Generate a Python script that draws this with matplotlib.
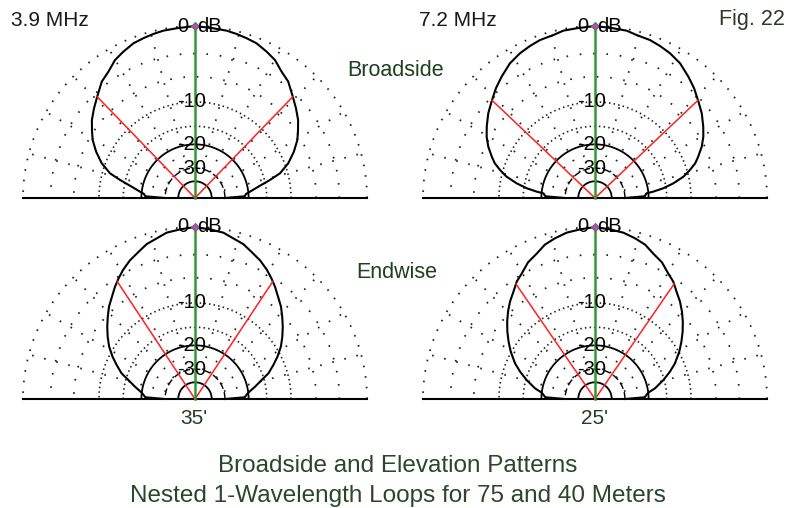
import numpy as np
import matplotlib.pyplot as plt

plt.rcParams['font.family'] = ['Liberation Sans', 'DejaVu Sans']

W, H = 790, 508
R_PX = 172  # radius of the 0 dB ring in pixels

# elevation patterns, left half: elevation angle (deg above horizon) and gain (dB)
ang_b39 = [0, 2, 4.5, 6.5, 10.1, 13.5, 16.2, 20.4, 25.1, 29.6, 33.4, 37.1, 41.6, 46.2,
           51.3, 55.5, 59.9, 63.9, 68.3, 72.1, 75.7, 79.3, 83.8, 90]
db_b39 = [-30, -21.3, -20.8, -19.5, -16.9, -13.8, -11.4, -9.4, -7.8, -6.5, -5.7, -4.9, -4.15, -3.4,
          -2.45, -2.0, -1.3, -0.93, -0.56, -0.41, -0.28, -0.17, -0.13, 0]

ang_b72 = [0, 2, 5.2, 6.2, 8.1, 10.6, 13.6, 16.4, 19.1, 21.8, 25.7, 29.5, 33.4, 38.4, 43.2,
           47.9, 52.4, 57.7, 62.6, 66.8, 70.8, 75.7, 79.3, 83.8, 90]
db_b72 = [-30, -21.3, -20.6, -18.5, -15.7, -13.2, -10.9, -9.5, -8.3, -7.5, -6.4, -5.55, -4.85, -4.0, -3.33,
          -2.6, -2.0, -1.32, -0.92, -0.68, -0.48, -0.38, -0.17, -0.13, 0]

ang_e39 = [0, 2, 6.8, 11.6, 15.9, 19.3, 23.5, 27.2, 31.4, 35.5, 39.5, 43.3, 47.1, 50.8,
           54.5, 57.6, 60.9, 64.8, 69.0, 72.7, 76.6, 80.3, 85.0, 90]
db_e39 = [-30, -21.3, -20.0, -17.7, -15.6, -13.6, -12.0, -10.6, -9.2, -8.1, -7.1, -6.2, -5.3, -4.6,
          -3.8, -3.2, -2.6, -2.0, -1.5, -1.0, -0.7, -0.33, -0.17, 0]

ang_e72 = [0, 2, 6.8, 10.1, 15.5, 20.0, 24.0, 29.3, 33.5, 37.5, 41.4, 45.2, 48.9, 52.7,
           56.3, 59.7, 63.9, 68.2, 72.0, 76.0, 80.3, 85.0, 90]
db_e72 = [-30, -21.3, -20.0, -17.8, -15.2, -13.2, -11.6, -9.9, -8.7, -7.6, -6.6, -5.7, -4.9, -4.2,
          -3.4, -2.9, -2.1, -1.6, -1.0, -0.65, -0.33, -0.17, 0]

# -3 dB beamwidth points (elevation angle)
bw_b39 = 46
bw_b72 = 43.5
bw_e39 = 56.5
bw_e72 = 55.5

freq_labels = ['3.9 MHz', '7.2 MHz']
height_labels = ["35'", "25'"]
ring_labels = [-10, -20, -30]


def arrl(db):
    # ARRL log scale: radius shrinks by 0.89 every 2 dB
    return 0.89 ** (-np.asarray(db, dtype=float) / 2)


def panel(cx, cy, ang, db, bw):
    w = 2.2 * R_PX
    h = 1.2 * R_PX
    ax = fig.add_axes([(cx - 1.1 * R_PX) / W, (H - cy - 0.1 * R_PX) / H, w / W, h / H])
    ax.set_xlim(-1.1, 1.1)
    ax.set_ylim(-0.1, 1.1)
    ax.axis('off')

    t = np.linspace(0, np.pi, 361)
    dot = '#202020'
    # rings
    for d, ls, lw, c in [(0, (0, (0.9, 5.0)), 1.3, dot), (-3, (0, (0.9, 6.5)), 1.3, dot),
                         (-6, (0, (0.9, 6.5)), 1.3, dot),
                         (-10, (0, (0.9, 1.9)), 1.2, dot), (-15, (0, (0.9, 1.9)), 1.2, dot),
                         (-20, '-', 1.3, 'black'), (-30, (0, (5, 2.5)), 1.0, 'black'),
                         (-40, '-', 1.3, 'black')]:
        r = arrl(d)
        ax.plot(r * np.cos(t), r * np.sin(t), color=c, ls=ls, lw=lw)
    # radial spokes
    for a in [15, 30, 45, 60, 75, 105, 120, 135, 150, 165]:
        rr = np.array([arrl(-30), 1.0])
        ax.plot(rr * np.cos(np.radians(a)), rr * np.sin(np.radians(a)),
                color=dot, ls=(0, (0.9, 6.0)), lw=1.3)
    ax.plot([-1, 1], [0, 0], color='black', lw=1.5)

    # pattern, mirrored about the zenith
    ang = np.asarray(ang, dtype=float)
    r = arrl(db)
    phi = np.radians(np.concatenate([ang, 180 - ang[::-1]]))
    rr = np.concatenate([r, r[::-1]])
    ax.plot(rr * np.cos(phi), rr * np.sin(phi), color='black', lw=1.5)

    # beamwidth lines
    rb = arrl(np.interp(bw, ang, db))
    for a in [bw, 180 - bw]:
        ax.plot([0, rb * np.cos(np.radians(a))], [0, rb * np.sin(np.radians(a))],
                color='#ff2020', lw=1.1)
    # max direction
    ax.plot([0, 0], [0, 1], color='#2e9a2e', lw=1.8)
    ax.plot(0, 1, marker='D', ms=4.5, color='#e030e0', mec='#2e9a2e', mew=0.8)

    ax.text(-0.04, 1, '0', ha='right', va='center', fontsize=14.5, color='black')
    ax.text(0.012, 1, 'dB', ha='left', va='center', fontsize=14.5, color='black')
    for d in ring_labels:
        ax.text(-0.02, arrl(d), '%d' % d, ha='center', va='center', fontsize=14.5, color='black')
    return ax


fig = plt.figure(figsize=(W / 100, H / 100), dpi=100)

panel(195, 198, ang_b39, db_b39, bw_b39)
panel(595, 198, ang_b72, db_b72, bw_b72)
panel(195, 399, ang_e39, db_e39, bw_e39)
panel(595, 399, ang_e72, db_e72, bw_e72)


def ftext(x, y, s, **kw):
    fig.text(x / W, 1 - y / H, s, ha='center', va='center', **kw)


ftext(50, 20, freq_labels[0], fontsize=15, color='#1a1a1a')
ftext(458, 20, freq_labels[1], fontsize=15, color='#1a1a1a')
ftext(752, 20, 'Fig. 22', fontsize=15.5, color='#2a3a2a')
ftext(396, 71, 'Broadside', fontsize=15.5, color='#1f3f1f')
ftext(397, 272, 'Endwise', fontsize=15.5, color='#1f3f1f')
ftext(194, 419, height_labels[0], fontsize=15, color='#1f3f1f')
ftext(595, 419, height_labels[1], fontsize=15, color='#1f3f1f')
ftext(398, 466, 'Broadside and Elevation Patterns', fontsize=17.5, color='#2a472a')
ftext(398, 496, 'Nested 1-Wavelength Loops for 75 and 40 Meters', fontsize=17.5, color='#2a472a')

fig.savefig('out.png', dpi=100)
